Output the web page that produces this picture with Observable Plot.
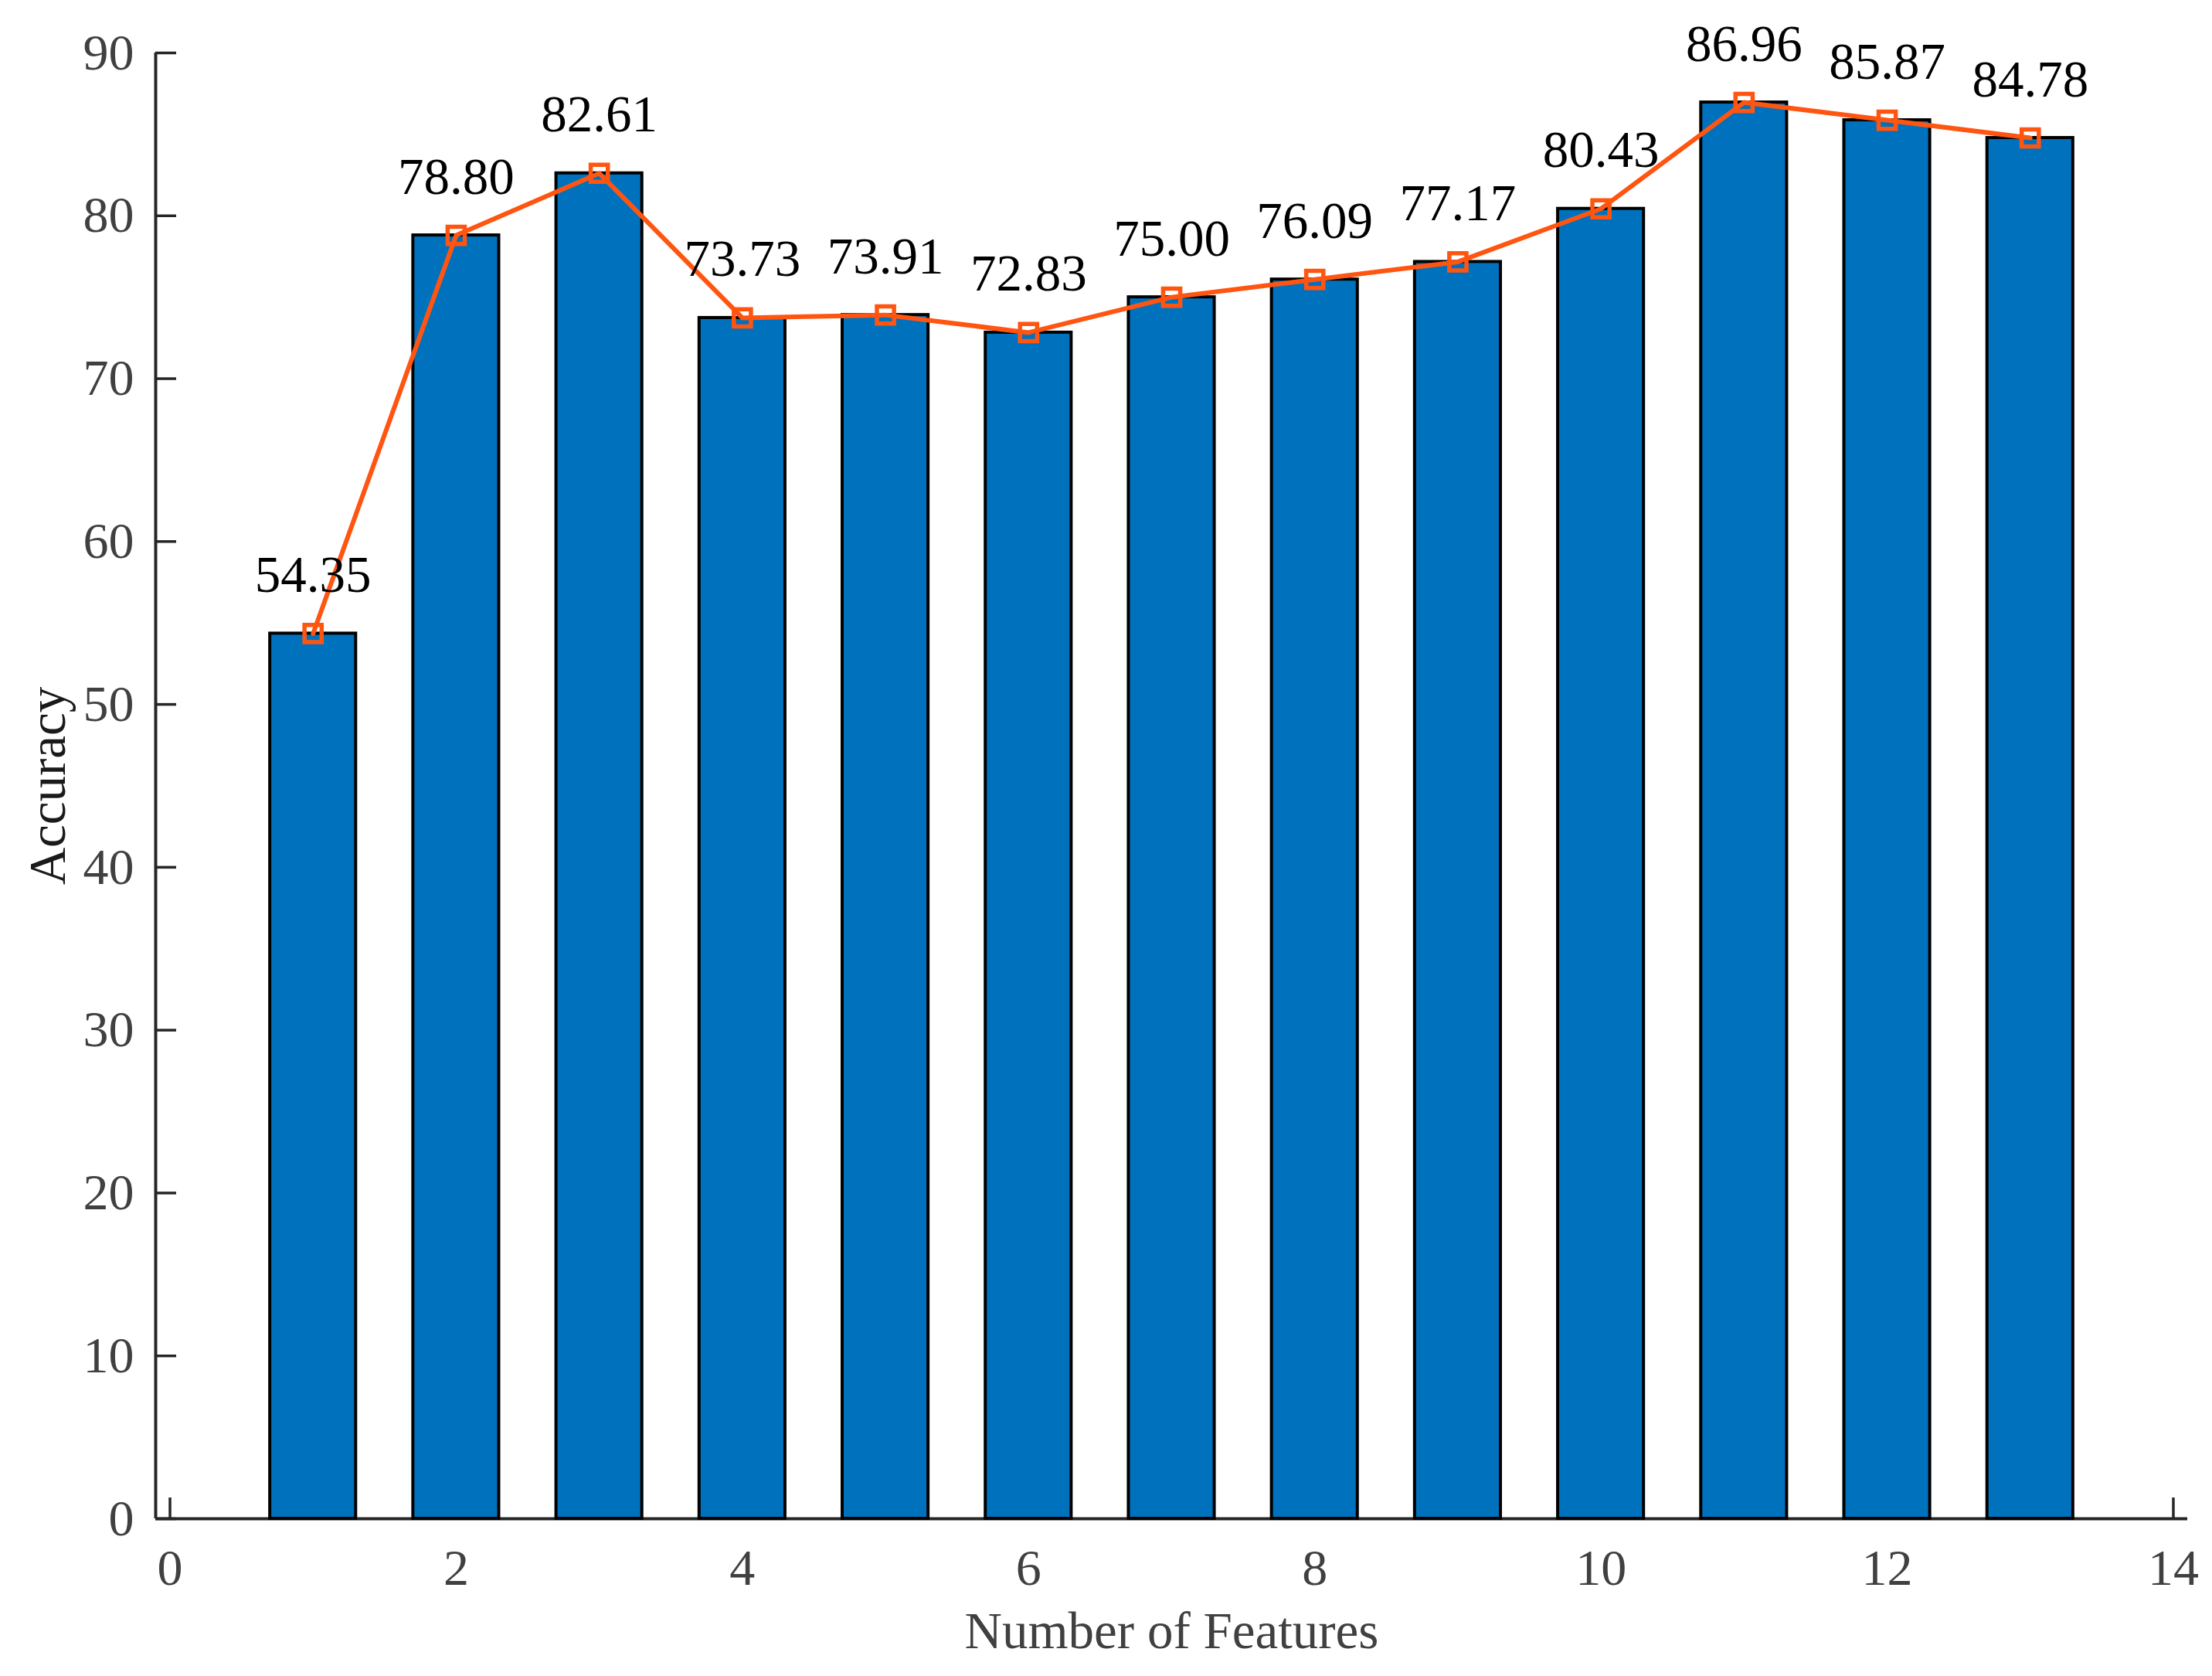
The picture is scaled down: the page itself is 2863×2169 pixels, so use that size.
<!DOCTYPE html>
<html>
<head>
<meta charset="utf-8">
<script src="https://cdn.jsdelivr.net/npm/d3@7"></script>
<script src="https://cdn.jsdelivr.net/npm/@observablehq/plot@0.6"></script>
<style>
  html, body { margin: 0; padding: 0; background: #ffffff; }
  #chart { width: 2863px; height: 2169px; }
</style>
</head>
<body>
<div id="chart"></div>
<script>
// ---- data ----
const features = [1, 2, 3, 4, 5, 6, 7, 8, 9, 10, 11, 12, 13];
const accuracy = [54.35, 78.80, 82.61, 73.73, 73.91, 72.83, 75.00, 76.09, 77.17, 80.43, 86.96, 85.87, 84.78];
const valueLabels = ["54.35", "78.80", "82.61", "73.73", "73.91", "72.83", "75.00", "76.09", "77.17", "80.43", "86.96", "85.87", "84.78"];
const xTicks = [0, 2, 4, 6, 8, 10, 12, 14];
const yTicks = [0, 10, 20, 30, 40, 50, 60, 70, 80, 90];
const xDomain = [-0.1, 14.1];
const yDomain = [0, 90];
const xTitle = "Number of Features";
const yTitle = "Accuracy";

const barWidth = 0.6;
const data = features.map((f, i) => ({f, acc: accuracy[i], label: valueLabels[i]}));

const axisColor = "#262626";
const tickTextColor = "#404040";
const barColor = "#0072BD";
const lineColor = "#FF5511";
const font = "Liberation Serif, Times New Roman, serif";

const chart = Plot.plot({
  width: 2863,
  height: 2169,
  marginLeft: 201,
  marginRight: 32,
  marginTop: 68,
  marginBottom: 204,
  x: {type: "linear", domain: xDomain},
  y: {type: "linear", domain: yDomain},
  style: {fontFamily: font, background: "#ffffff", overflow: "visible"},
  marks: [
    // inward tick marks (drawn beneath bars)
    Plot.axisX(xTicks, {tickSize: -27, tickFormat: () => "", stroke: axisColor, strokeWidth: 3.5, label: null}),
    Plot.axisY(yTicks, {tickSize: -27, tickFormat: () => "", stroke: axisColor, strokeWidth: 3.5, label: null}),
    // axis lines
    Plot.ruleX([xDomain[0]], {stroke: axisColor, strokeWidth: 4}),
    Plot.ruleY([yDomain[0]], {stroke: axisColor, strokeWidth: 4}),
    // bars
    Plot.rect(data, {
      x1: d => d.f - barWidth / 2,
      x2: d => d.f + barWidth / 2,
      y1: 0,
      y2: "acc",
      fill: barColor,
      stroke: "#000000",
      strokeWidth: 4
    }),
    // tick labels
    Plot.axisX(xTicks, {tickSize: 0, tickPadding: 39, fontSize: 66, fill: tickTextColor, label: null, tickFormat: d => String(d)}),
    Plot.axisY(yTicks, {tickSize: 0, tickPadding: 28, fontSize: 66, fill: tickTextColor, label: null, tickFormat: d => String(d)}),
    // line + markers
    Plot.line(data, {x: "f", y: "acc", stroke: lineColor, strokeWidth: 6}),
    Plot.dot(data, {x: "f", y: "acc", symbol: "square", r: 12.5, stroke: lineColor, strokeWidth: 5.5, fill: "none"}),
    // value labels
    Plot.text(data, {x: "f", y: "acc", text: "label", dy: -54, lineAnchor: "bottom", fontSize: 67, fill: "#000000"}),
    // axis titles
    Plot.text([xTitle], {frameAnchor: "bottom", dy: 167, textAnchor: "middle", lineAnchor: "bottom", fontSize: 67, fill: tickTextColor}),
    Plot.text([yTitle], {frameAnchor: "left", dx: -118, rotate: -90, textAnchor: "middle", lineAnchor: "bottom", fontSize: 67, fill: "#1a1a1a"})
  ]
});

document.getElementById("chart").appendChild(chart);
</script>
</body>
</html>
